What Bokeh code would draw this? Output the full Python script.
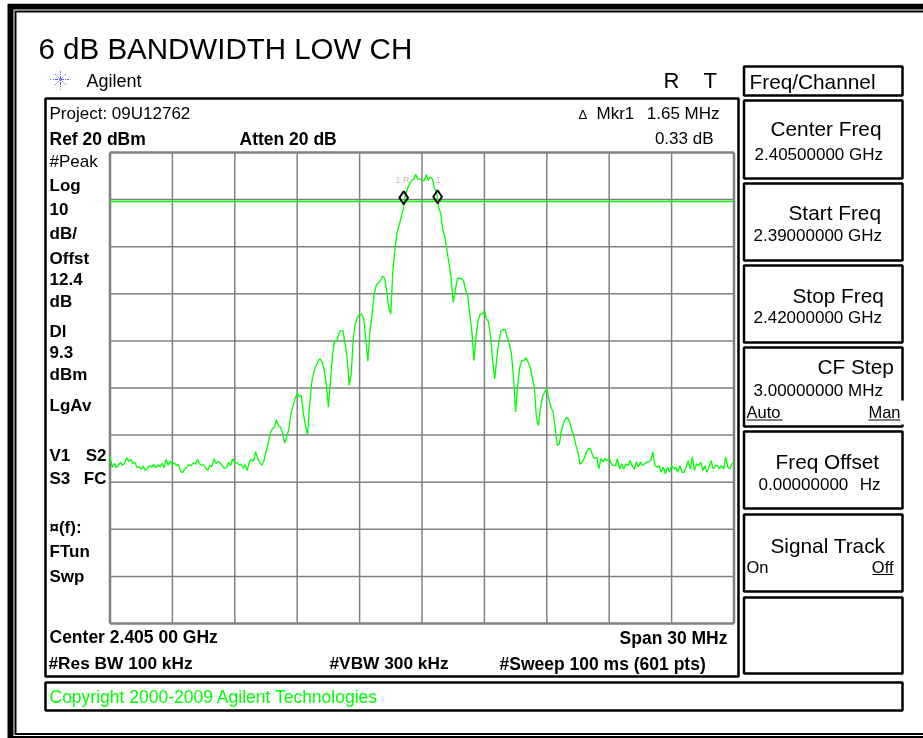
from bokeh.plotting import figure
from bokeh.models import Range1d
from bokeh.core.properties import value
from bokeh.embed import file_html
from bokeh.resources import INLINE
import numpy as np

# ---- data ----
sweep_start_mhz = 2390.0
sweep_step_mhz = 0.1
level_dbm = [
 -44.5,-46.8,-46.0,-46.9,-46.5,-45.8,-46.4,-46.0,-44.8,-45.6,
 -45.2,-46.0,-45.8,-46.9,-46.7,-47.3,-46.6,-47.5,-47.0,-46.5,
 -46.8,-46.2,-46.9,-46.3,-46.7,-46.0,-46.9,-45.2,-46.4,-45.5,
 -46.3,-45.9,-46.5,-46.2,-47.8,-47.9,-47.2,-46.8,-46.3,-46.5,
 -45.9,-46.2,-45.2,-46.0,-46.4,-46.3,-47.0,-47.5,-46.4,-46.7,
 -45.0,-46.0,-45.6,-45.9,-46.6,-47.0,-46.9,-45.8,-46.4,-45.0,
 -46.0,-45.8,-46.3,-46.2,-47.0,-46.3,-47.5,-45.6,-45.2,-45.6,
 -43.5,-45.0,-45.8,-46.4,-45.5,-43.5,-41.9,-39.7,-38.7,-38.3,
 -36.8,-38.0,-38.3,-39.7,-41.7,-40.3,-38.7,-35.5,-33.7,-32.3,
 -31.1,-31.8,-31.6,-35.5,-38.0,-39.9,-33.4,-28.8,-26.6,-25.4,
 -24.3,-23.8,-24.5,-26.3,-29.1,-34.1,-28.4,-22.8,-19.9,-20.1,
 -18.4,-17.8,-17.8,-20.6,-23.5,-29.5,-27.0,-19.2,-16.4,-15.0,
 -14.4,-14.3,-15.3,-19.9,-24.3,-17.8,-14.3,-10.0,-8.2,-7.7,
 -7.3,-6.3,-6.6,-9.3,-12.8,-14.3,-5.0,-0.5,3.1,4.5,
 6.3,8.0,10.9,12.3,13.3,14.1,14.4,15.3,14.4,14.4,
 14.1,14.0,15.3,14.1,14.8,14.4,12.3,11.6,8.4,7.0,
 3.6,2.0,-0.8,-3.6,-6.8,-11.8,-9.3,-6.8,-6.7,-6.8,
 -7.2,-9.3,-10.4,-14.3,-18.1,-24.2,-18.9,-15.7,-14.3,-14.3,
 -13.6,-15.3,-16.0,-19.2,-24.2,-28.1,-23.5,-19.9,-17.8,-17.6,
 -17.6,-19.2,-20.6,-22.8,-27.7,-35.1,-29.5,-25.6,-24.2,-24.2,
 -23.6,-24.5,-25.6,-27.7,-29.8,-36.2,-38.0,-34.1,-31.6,-30.9,
 -30.0,-32.3,-34.1,-35.1,-38.3,-42.2,-41.9,-39.0,-37.6,-36.5,
 -36.3,-37.3,-39.0,-40.1,-42.2,-43.6,-46.2,-45.7,-45.0,-43.6,
 -42.9,-42.9,-44.3,-45.0,-44.7,-47.2,-45.0,-45.7,-45.0,-45.4,
 -45.0,-46.1,-46.5,-46.5,-45.0,-47.2,-46.1,-47.2,-46.1,-46.5,
 -45.4,-46.5,-47.2,-45.7,-46.8,-45.7,-46.5,-46.1,-45.7,-45.7,
 -45.4,-43.5,-46.5,-46.8,-46.5,-47.9,-46.8,-48.2,-46.8,-47.9,
 -46.5,-47.2,-46.8,-47.9,-46.5,-47.9,-47.9,-46.8,-45.4,-47.2,
 -44.7,-47.5,-46.1,-46.5,-45.7,-47.5,-46.5,-47.9,-46.8,-45.4,
 -47.2,-46.5,-46.5,-47.2,-46.5,-47.2,-44.7,-46.8,-47.2,-46.1,-45.6,
]
marker_mhz = [2404.12, 2405.75]
marker_dbm = [10.4, 10.6]
display_line_dbm = 9.6
freq_ticks = [2390, 2393, 2396, 2399, 2402, 2405, 2408, 2411, 2414, 2417, 2420]
level_ticks = [20, 10, 0, -10, -20, -30, -40, -50, -60, -70, -80]

freq_mhz = sweep_start_mhz + sweep_step_mhz * np.arange(len(level_dbm))

# ---- page geometry ----
W, H = 923, 738
GL, GR, GT, GB = 109.5, 733.5, 152.0, 623.0
ppx = (GR - GL) / 30.0
ppy = (GB - GT) / 100.0

p = figure(width=W, height=H, output_backend="svg", toolbar_location=None,
           x_range=Range1d(2390 - GL / ppx, 2390 + (W - GL) / ppx),
           y_range=Range1d(-80 - (H - GB) / ppy, 20 + GT / ppy),
           min_border=0, min_border_left=0, min_border_right=0,
           min_border_top=0, min_border_bottom=0,
           outline_line_color=None, background_fill_color="white")
p.styles = {"position": "fixed", "left": "0px", "top": "0px"}
p.axis.visible = False
p.grid.visible = False
p.extra_x_ranges = {"px": Range1d(0, W)}
p.extra_y_ranges = {"py": Range1d(H, 0)}


def box(l, t, r, b, fill="white", line=None, lw=1):
    p.quad(left=[l], right=[r], top=[t], bottom=[b], fill_color=fill,
           line_color=line, line_width=lw,
           x_range_name="px", y_range_name="py")


FONT = "Liberation Sans"
BASELINE_SHIFT = 0.36  # the svg text sits lower than its anchor by this share of its size


def txt(s, x, y, size=17, bold=False, color="#000000", align="left"):
    p.text(x=[x], y=[y - BASELINE_SHIFT * size], text=[s], x_range_name="px", y_range_name="py",
           text_font=value(FONT), text_font_size=value(f"{size}px"),
           text_font_style="bold" if bold else "normal",
           text_color=color, text_align=align, text_baseline="alphabetic")


def rule(x0, x1, y):
    p.segment(x0=[x0], x1=[x1], y0=[y], y1=[y], line_color="black", line_width=1,
              x_range_name="px", y_range_name="py")


# outer frame, open at the page edge
box(7, 3.3, W, H, fill="black")
box(13, 9, W, 735.5, fill="white")
box(14, 10, W, 734.5, fill="black")
box(16, 12, W, 732.5, fill="white")

# instrument panels
box(45, 98, 738, 676, line="black", lw=2.5)
box(45, 682, 902, 710, line="black", lw=2.5)
box(743.5, 66, 902, 95, line="black", lw=2.5)
for top, bottom in [(100, 178), (183, 260), (265, 342), (347, 426),
                    (431, 508), (514, 591), (597, 673)]:
    box(743.5, top, 902, bottom, line="black", lw=2.5)
box(900.5, 400, 904, 424, fill="white")

# graticule
p.segment(x0=freq_ticks, x1=freq_ticks, y0=[-80] * 11, y1=[20] * 11,
          line_color="#808080", line_width=[2.5] + [1.5] * 9 + [2.5])
p.segment(x0=[2390] * 11, x1=[2420] * 11, y0=level_ticks, y1=level_ticks,
          line_color="#808080", line_width=[2.5] + [1.5] * 9 + [2.5])

# display line, trace, markers
p.segment(x0=[2390], x1=[2420], y0=[display_line_dbm], y1=[display_line_dbm],
          line_color="#00ff00", line_width=1.4)
p.line(freq_mhz, level_dbm, line_color="#00ff00", line_width=1.3)
p.scatter(marker_mhz, marker_dbm, marker="diamond", size=13, fill_color=None,
          line_color="black", line_width=2)
txt("1 R", 395, 183, size=9, color="#bbbbbb")
txt("1", 435, 183, size=9, color="#bbbbbb")

# title and header
txt("6 dB BANDWIDTH LOW CH", 38, 59, size=29.5)
p.scatter([60], [79], marker="asterisk", size=15, line_color="#5050ff", line_width=1,
          line_dash="1 1", x_range_name="px", y_range_name="py")
p.scatter([60], [79], marker="cross", size=21, line_color="#7070ff", line_width=1,
          line_dash="1 2", x_range_name="px", y_range_name="py")
txt("Agilent", 86, 87, size=18)
txt("R", 663, 88, size=22)
txt("T", 703, 88, size=22)

# panel annotation
txt("Project: 09U12762", 49, 119, size=17)
txt("\u0394", 578, 119, size=13)
txt("Mkr1", 596, 119, size=17)
txt("1.65 MHz", 719, 119, size=17, align="right")
txt("Ref 20 dBm", 49, 145, size=17.5, bold=True)
txt("Atten 20 dB", 239, 145, size=17.5, bold=True)
txt("0.33 dB", 713, 144, size=17, align="right")
txt("#Peak", 49, 167, size=17)
for s, y in [("Log", 191), ("10", 215), ("dB/", 239), ("Offst", 264), ("12.4", 285),
             ("dB", 307), ("Dl", 337), ("9.3", 358), ("dBm", 380), ("LgAv", 411),
             ("\u00a4(f):", 533), ("FTun", 557), ("Swp", 582)]:
    txt(s, 49, y, size=17, bold=True)
txt("V1", 49, 461, size=17, bold=True)
txt("S2", 106, 461, size=17, bold=True, align="right")
txt("S3", 49, 484, size=17, bold=True)
txt("FC", 106, 484, size=17, bold=True, align="right")
txt("Center 2.405 00 GHz", 49, 643, size=17.5, bold=True)
txt("Span 30 MHz", 727, 644, size=17.5, bold=True, align="right")
txt("#Res BW 100 kHz", 48, 669, size=17.3, bold=True)
txt("#VBW 300 kHz", 329, 669, size=17.3, bold=True)
txt("#Sweep 100 ms (601 pts)", 499, 670, size=17.5, bold=True)
txt("Copyright 2000-2009 Agilent Technologies", 49, 703, size=17.5, color="#00ff00")

# softkeys
txt("Freq/Channel", 749, 88, size=20.8)
txt("Center Freq", 770, 135, size=20.8)
txt("2.40500000 GHz", 754, 160, size=17)
txt("Start Freq", 788, 219, size=20.8)
txt("2.39000000 GHz", 753, 241, size=17)
txt("Stop Freq", 792, 302, size=20.8)
txt("2.42000000 GHz", 753, 323, size=17)
txt("CF Step", 817, 373, size=20.8)
txt("3.00000000 MHz", 753, 396, size=17)
txt("Auto", 746, 417, size=16.5)
rule(746, 782, 419.5)
txt("Man", 900, 417, size=16.5, align="right")
rule(868, 900, 419.5)
txt("Freq Offset", 775, 468, size=20.8)
txt("0.00000000", 758, 490, size=17)
txt("Hz", 880, 490, size=17, align="right")
txt("Signal Track", 770, 552, size=20.8)
txt("On", 746, 572, size=16.5)
txt("Off", 893, 572, size=16.5, align="right")
rule(872, 893, 574)

open("out.html", "w").write(file_html(p, INLINE))
